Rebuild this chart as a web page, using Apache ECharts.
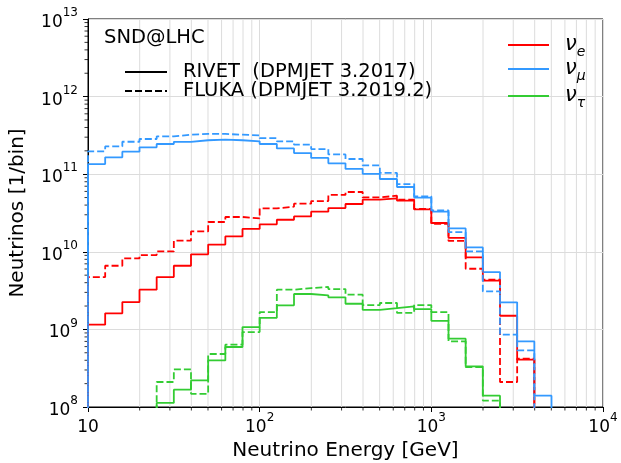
<!DOCTYPE html>
<html><head><meta charset="utf-8">
<script src="https://cdn.jsdelivr.net/npm/echarts@6/dist/echarts.min.js"></script>
<style>html,body{margin:0;padding:0;background:#fff}#c{width:621px;height:463px}</style>
</head><body><div id="c"></div>
<script>
// Bin edges (0.1 decade wide), GeV
const binEdges = [10, 12.59, 15.85, 19.95, 25.12, 31.62, 39.81, 50.12, 63.10, 79.43,
  100, 125.9, 158.5, 199.5, 251.2, 316.2, 398.1, 501.2, 631.0, 794.3,
  1000, 1259, 1585, 1995, 2512, 3162, 3981, 5012];

// Neutrinos per bin
const nueRivet = [1.15e9,1.61e9,2.25e9,3.25e9,4.73e9,6.61e9,9.27e9,1.24e10,1.58e10,1.97e10,
  2.26e10,2.59e10,2.86e10,3.29e10,3.66e10,4.13e10,4.69e10,4.88e10,4.56e10,3.52e10,
  2.35e10,1.51e10,8.47e9,4.25e9,1.50e9,4.07e8,null];
const nueFluka = [4.73e9,6.61e9,8.22e9,9.08e9,1.01e10,1.39e10,1.83e10,2.42e10,2.81e10,2.69e10,
  3.63e10,3.81e10,4.17e10,4.51e10,5.40e10,5.90e10,5.02e10,5.28e10,4.69e10,3.57e10,
  2.29e10,1.38e10,6.05e9,4.38e9,2.10e8,4.19e8,null];
const numuRivet = [1.35e11,1.65e11,1.95e11,2.22e11,2.45e11,2.61e11,2.74e11,2.79e11,2.74e11,2.65e11,
  2.45e11,2.15e11,1.87e11,1.62e11,1.38e11,1.17e11,1.01e11,8.67e10,6.84e10,5.0e10,
  3.29e10,2.0e10,1.14e10,5.48e9,2.23e9,7.0e8,1.4e8];
const numuFluka = [1.97e11,2.28e11,2.62e11,2.84e11,3.07e11,3.23e11,3.30e11,3.30e11,3.23e11,3.16e11,
  2.91e11,2.65e11,2.40e11,2.11e11,1.80e11,1.57e11,1.30e11,1.04e11,7.46e10,5.19e10,
  3.42e10,1.79e10,1.01e10,3.09e9,8.55e8,5.37e8,null];
const nutauRivet = [null,null,null,null,1.13e8,1.67e8,2.20e8,3.98e8,5.93e8,1.07e9,
  1.41e9,2.04e9,2.86e9,2.75e9,2.59e9,2.14e9,1.79e9,1.88e9,1.98e9,1.83e9,
  1.29e9,7.59e8,3.34e8,1.40e8,null,null,null];
const nutauFluka = [null,null,null,null,2.10e8,3.05e8,1.48e8,4.82e8,6.35e8,9.25e8,
  1.67e9,3.25e9,3.41e9,3.52e9,3.31e9,2.80e9,2.06e9,2.19e9,1.63e9,2.06e9,
  1.67e9,7.02e8,3.27e8,1.21e8,null,null,null];

const flavourLabels = ['e', 'μ', 'τ'];
const generatorLabels = ['RIVET  (DPMJET 3.2017)', 'FLUKA (DPMJET 3.2019.2)'];
const minorMultipliers = [2,3,4,5,6,7,8,9];
const xDecades = [10, 100, 1000];
const yDecades = [1e8, 1e9, 1e10, 1e11, 1e12];

const FONT = 'DejaVu Sans';
const colors = ['#ff0000', '#3399ff', '#33cc33'];
const BASE = 1e6;
const DASH = [7, 3];

function steps(vals) {
  let a = 0; while (vals[a] == null) a++;
  let b = vals.length - 1; while (vals[b] == null) b--;
  const pts = [[binEdges[a], BASE]];
  for (let i = a; i <= b; i++) {
    pts.push([binEdges[i], vals[i]]);
    pts.push([binEdges[i + 1], vals[i]]);
  }
  pts.push([binEdges[b + 1], BASE]);
  return pts;
}

function lineSeries(name, vals, color, dashed) {
  return {
    name: name, type: 'line', data: steps(vals), symbol: 'none', showSymbol: false,
    clip: true, z: 3, animation: false, silent: true,
    lineStyle: { color: color, width: 1.8, type: dashed ? DASH : 'solid' }
  };
}

const minorData = [];
xDecades.forEach(d => minorMultipliers.forEach(m => minorData.push([d * m, 1e10, 0])));
yDecades.forEach(d => minorMultipliers.forEach(m => minorData.push([100, d * m, 1])));

const richPow = {
  a: { fontFamily: FONT, fontSize: 17, color: '#000', lineHeight: 24, verticalAlign: 'bottom' },
  b: { fontFamily: FONT, fontSize: 12, color: '#000', lineHeight: 12, verticalAlign: 'top' }
};
function powLabel(v) {
  const e = Math.round(Math.log10(v));
  return e === 1 ? '{a|10}' : '{a|10}{b|' + e + '}';
}

const chart = echarts.init(document.getElementById('c'), null, { renderer: 'canvas' });
const option = {
  animation: false,
  backgroundColor: '#fff',
  grid: { left: 88, right: 18, top: 19, bottom: 56, show: true, borderColor: '#000', borderWidth: 1,
    containLabel: false, outerBoundsMode: 'none' },
  xAxis: {
    type: 'log', logBase: 10, min: 10, max: 10000,
    name: 'Neutrino Energy [GeV]', nameLocation: 'middle', nameGap: 31,
    nameTextStyle: { fontFamily: FONT, fontSize: 20, color: '#000' },
    axisLine: { show: true, onZero: false, lineStyle: { color: '#000', width: 1 } },
    axisTick: { show: true, length: 5, lineStyle: { color: '#000' } },
    axisLabel: { formatter: powLabel, rich: richPow, margin: 5, color: '#000' },
    splitLine: { show: true, lineStyle: { color: '#dcdcdc', width: 1 } }
  },
  yAxis: {
    type: 'log', logBase: 10, min: 1e8, max: 1e13,
    name: 'Neutrinos [1/bin]', nameLocation: 'middle', nameGap: 60,
    nameTextStyle: { fontFamily: FONT, fontSize: 20, color: '#000' },
    axisLine: { show: true, onZero: false, lineStyle: { color: '#000', width: 1 } },
    axisTick: { show: true, length: 5, lineStyle: { color: '#000' } },
    axisLabel: { formatter: powLabel, rich: richPow, margin: 10, color: '#000' },
    splitLine: { show: true, lineStyle: { color: '#dcdcdc', width: 1 } }
  },
  series: [
    {
      type: 'custom', data: minorData, z: 1, silent: true, clip: false, animation: false,
      renderItem: function (params, api) {
        const cs = params.coordSys;
        const kind = api.value(2);
        if (kind === 0) {
          const x = api.coord([api.value(0), 1e10])[0];
          return { type: 'group', children: [
            { type: 'line', shape: { x1: x, y1: cs.y, x2: x, y2: cs.y + cs.height }, style: { stroke: '#dcdcdc', lineWidth: 1 } },
            { type: 'line', shape: { x1: x, y1: cs.y + cs.height, x2: x, y2: cs.y + cs.height + 3.5 }, style: { stroke: '#000', lineWidth: 0.8 } }
          ]};
        }
        const y = api.coord([100, api.value(1)])[1];
        return { type: 'line', shape: { x1: cs.x - 3.5, y1: y, x2: cs.x, y2: y }, style: { stroke: '#000', lineWidth: 0.8 } };
      }
    },
    lineSeries('nue RIVET', nueRivet, colors[0], false),
    lineSeries('numu RIVET', numuRivet, colors[1], false),
    lineSeries('nutau RIVET', nutauRivet, colors[2], false),
    lineSeries('nue FLUKA', nueFluka, colors[0], true),
    lineSeries('numu FLUKA', numuFluka, colors[1], true),
    lineSeries('nutau FLUKA', nutauFluka, colors[2], true)
  ],
  graphic: [
    { type: 'text', left: 104, top: 28, z: 10, style: { text: 'SND@LHC', fontFamily: FONT, fontSize: 19.5, fill: '#000' } },
    { type: 'line', z: 10, shape: { x1: 125, y1: 72, x2: 167, y2: 72 }, style: { stroke: '#000', lineWidth: 1.8 } },
    { type: 'line', z: 10, shape: { x1: 125, y1: 91, x2: 167, y2: 91 }, style: { stroke: '#000', lineWidth: 1.8, lineDash: DASH } },
    { type: 'text', z: 10, x: 183, y: 72, style: { text: generatorLabels[0], fontFamily: FONT, fontSize: 19.5, fill: '#000', verticalAlign: 'middle' } },
    { type: 'text', z: 10, x: 183, y: 91, style: { text: generatorLabels[1], fontFamily: FONT, fontSize: 19.5, fill: '#000', verticalAlign: 'middle' } }
  ].concat([45, 69, 96].flatMap((yy, k) => [
    { type: 'line', z: 10, shape: { x1: 508, y1: yy, x2: 549, y2: yy }, style: { stroke: colors[k], lineWidth: 1.8 } },
    { type: 'text', z: 10, x: 565, y: yy - 11, style: {
      text: '{n|ν}{s|' + flavourLabels[k] + '}',
      rich: {
        n: { fontFamily: FONT, fontStyle: 'italic', fontSize: 21, fill: '#000', lineHeight: 22, verticalAlign: 'top' },
        s: { fontFamily: FONT, fontStyle: 'italic', fontSize: 14, fill: '#000', lineHeight: 14, padding: [11, 0, 0, 0], verticalAlign: 'top' }
      } } }
  ]))
};
chart.setOption(option);
</script></body></html>
